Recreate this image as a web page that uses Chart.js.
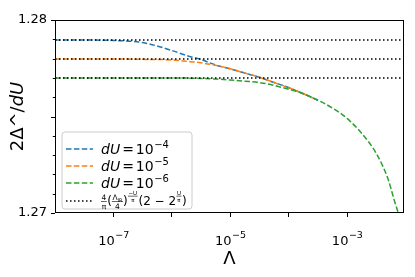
<!DOCTYPE html>
<html><head><meta charset="utf-8">
<script src="https://cdn.jsdelivr.net/npm/chart.js@4/dist/chart.umd.min.js"></script>
<style>html,body{margin:0;padding:0;background:#fff}#wrap{width:415px;height:277px}</style>
</head><body><div id="wrap"><canvas id="c" width="415" height="277"></canvas></div>
<script>
// Λ sample points (x axis)
const lambdaGrid = [1e-8, 3.16e-8, 1e-7, 3.16e-7, 1e-6, 1.78e-6, 3.16e-6, 5.62e-6, 1e-5, 1.78e-5, 3.16e-5, 5.62e-5, 1e-4, 1.78e-4, 3.16e-4, 5.62e-4, 1e-3, 1.78e-3, 3.16e-3, 5.01e-3, 6.31e-3, 7.59e-3];
// 2Δ^/dU for each dU (blue / orange hidden under green once merged)
const blueVals   = [1.27896,1.27896,1.27894,1.27883,1.27842,1.27816,1.27795,1.27767,1.27747,1.27725,1.27703,1.27676,1.27650,1.27618,1.27584];
const orangeVals = [1.27798,1.27798,1.27798,1.27796,1.27793,1.27786,1.27778,1.27765,1.27747,1.27725,1.27703,1.27676,1.27649,1.27618,1.27584];
const greenVals  = [1.27700,1.27700,1.27700,1.27700,1.27700,1.27699,1.27697,1.27694,1.27689,1.27683,1.27676,1.27661,1.27641,1.27618,1.27584,1.27544,1.27490,1.27412,1.27308,1.27176,1.27073,1.26995];
// analytic reference levels (dotted)
const refLevels = [1.27896, 1.27798, 1.27700];
const seriesNames = ['dU = 10⁻⁴', 'dU = 10⁻⁵', 'dU = 10⁻⁶'];
const seriesExp = ['−4', '−5', '−6'];
const xRange = [1e-8, 9.4e-3];
const yRange = [1.27, 1.28];
const xTickVals = [1e-7, 1e-6, 1e-5, 1e-4, 1e-3];
const xTickBase = ['10', '', '10', '', '10'];
const xTickExp = ['−7', '', '−5', '', '−3'];
const yTickVals = [1.27, 1.271, 1.272, 1.273, 1.274, 1.275, 1.276, 1.277, 1.278, 1.279, 1.28];
const yTickLabels = ['1.27', '', '', '', '', '', '', '', '', '', '1.28'];

const colors = ['#1f77b4', '#ff7f0e', '#2ca02c'];
const FONT = "'DejaVu Sans', sans-serif";
const dash = [5.5, 2.4], dot = [1.5, 2.5];

const mk = vals => vals.map((y, i) => ({x: lambdaGrid[i], y}));
const datasets = [blueVals, orangeVals, greenVals].map((v, i) => ({
  label: seriesNames[i], data: mk(v), borderColor: colors[i], borderWidth: 1.5,
  borderDash: dash, pointRadius: 0, fill: false, cubicInterpolationMode: 'monotone', order: 3 - i
}));
refLevels.forEach((lv, i) => datasets.push({
  label: i === 0 ? 'ref' : 'ref' + i, data: [{x: xRange[0], y: lv}, {x: xRange[1], y: lv}],
  borderColor: '#000', borderWidth: 1.5, borderDash: dot, pointRadius: 0, fill: false, order: 0
}));

function frac(ctx, x, y, num, den, size) {
  ctx.font = size + 'px ' + FONT;
  const w = Math.max(ctx.measureText(num).width, ctx.measureText(den).width);
  ctx.textAlign = 'center';
  ctx.textBaseline = 'alphabetic';
  ctx.fillText(num, x + w / 2 + 0.5, y - size * 0.35);
  ctx.fillText(den, x + w / 2 + 0.5, y + size * 0.85);
  ctx.fillRect(x, y - size * 0.22, w + 1, 0.6);
  ctx.textAlign = 'left';
  return x + w + 1;
}
function txt(ctx, x, y, s, font) {
  ctx.font = font; ctx.textAlign = 'left'; ctx.textBaseline = 'alphabetic';
  ctx.fillText(s, x, y); return x + ctx.measureText(s).width;
}

const decor = {
  id: 'decor',
  afterDraw(chart) {
    const ctx = chart.ctx, a = chart.chartArea;
    const ys = chart.scales.y, xs = chart.scales.x;
    ctx.save();
    // frame
    ctx.strokeStyle = '#000'; ctx.lineWidth = 1;
    ctx.strokeRect(Math.round(a.left) + 0.5, Math.round(a.top) + 0.5, Math.round(a.right - a.left) - 1, Math.round(a.bottom - a.top) - 1);
    // minor y ticks
    yTickVals.forEach((v, i) => {
      const p = Math.round(ys.getPixelForValue(v)) + 0.5;
      const L = (i === 5) ? 4 : 2.2;
      if (i === 0 || i === 10) return;
      ctx.beginPath(); ctx.moveTo(a.left - L, p); ctx.lineTo(a.left, p); ctx.stroke();
    });
    ctx.fillStyle = '#000';
    // x tick labels 10^n
    xTickVals.forEach((v, i) => {
      if (!xTickBase[i]) return;
      const px = xs.getPixelForValue(v);
      ctx.font = '13px ' + FONT; const wb = ctx.measureText(xTickBase[i]).width;
      ctx.font = '9.5px ' + FONT; const we = ctx.measureText(xTickExp[i]).width;
      const sx = px - (wb + we) / 2;
      txt(ctx, sx, 245, xTickBase[i], '13px ' + FONT);
      txt(ctx, sx + wb + 0.5, 238, xTickExp[i], '9.5px ' + FONT);
    });
    // axis titles
    ctx.font = '18px ' + FONT; ctx.textAlign = 'center'; ctx.textBaseline = 'middle';
    ctx.fillText('Λ', (a.left + a.right) / 2, 259);
    ctx.save();
    ctx.translate(18, (a.top + a.bottom) / 2); ctx.rotate(-Math.PI / 2);
    ctx.font = '18px ' + FONT;
    const p1 = '2Δ^/'; const w1 = ctx.measureText(p1).width;
    ctx.font = 'italic 18px ' + FONT; const w2 = ctx.measureText('dU').width;
    let sx = -(w1 + w2) / 2;
    ctx.textAlign = 'left'; ctx.textBaseline = 'middle';
    ctx.font = '18px ' + FONT; ctx.fillText(p1, sx, 0);
    ctx.font = 'italic 18px ' + FONT; ctx.fillText('dU', sx + w1, 0);
    ctx.restore();
    // legend
    const bx = 62, by = 132, bw = 130, bh = 77, r = 3;
    ctx.beginPath();
    ctx.moveTo(bx + r, by); ctx.lineTo(bx + bw - r, by); ctx.quadraticCurveTo(bx + bw, by, bx + bw, by + r);
    ctx.lineTo(bx + bw, by + bh - r); ctx.quadraticCurveTo(bx + bw, by + bh, bx + bw - r, by + bh);
    ctx.lineTo(bx + r, by + bh); ctx.quadraticCurveTo(bx, by + bh, bx, by + bh - r);
    ctx.lineTo(bx, by + r); ctx.quadraticCurveTo(bx, by, bx + r, by); ctx.closePath();
    ctx.fillStyle = 'rgba(255,255,255,0.8)'; ctx.fill();
    ctx.strokeStyle = '#cccccc'; ctx.lineWidth = 1; ctx.stroke();
    const rows = [149, 166, 183, 201];
    for (let i = 0; i < 4; i++) {
      ctx.beginPath(); ctx.setLineDash(i < 3 ? dash : dot); ctx.lineWidth = 1.5;
      ctx.strokeStyle = i < 3 ? colors[i] : '#000';
      ctx.moveTo(66, rows[i]); ctx.lineTo(93, rows[i]); ctx.stroke(); ctx.setLineDash([]);
    }
    ctx.fillStyle = '#000';
    for (let i = 0; i < 3; i++) {
      const y = rows[i] + 5;
      let x = txt(ctx, 101, y, 'dU', 'italic 14px ' + FONT);
      x = txt(ctx, x + 2, y, '=', '14px ' + FONT);
      x = txt(ctx, x + 2, y, '10', '14px ' + FONT);
      txt(ctx, x + 0.5, y - 6.5, seriesExp[i], '10px ' + FONT);
    }
    // formula row
    {
      const y = rows[3] + 4;
      let x = 101;
      x = frac(ctx, x, y - 2, '4', 'π', 7.5);
      x = txt(ctx, x + 0.5, y, '(', '12px ' + FONT);
      ctx.font = '7.5px ' + FONT;
      const nx = x;
      ctx.textAlign = 'left';
      const wL = ctx.measureText('Λ').width;
      ctx.fillText('Λ', nx + 0.5, y - 2 - 7.5 * 0.35);
      ctx.font = '5px ' + FONT; ctx.fillText('IR', nx + 0.5 + wL, y - 2 - 7.5 * 0.35 + 1.2);
      const wN = wL + ctx.measureText('IR').width;
      ctx.font = '7.5px ' + FONT; ctx.textAlign = 'center';
      ctx.fillText('4', nx + wN / 2 + 0.5, y - 2 + 7.5 * 0.85);
      ctx.fillRect(nx, y - 2 - 7.5 * 0.22, wN + 1, 0.6);
      ctx.textAlign = 'left';
      x = nx + wN + 1;
      x = txt(ctx, x, y, ')', '12px ' + FONT);
      x = frac(ctx, x + 0.3, y - 8, '−U', 'π', 5.5);
      x = txt(ctx, x + 0.8, y, '(2 − 2', '12px ' + FONT);
      x = frac(ctx, x + 0.3, y - 8, 'U', 'π', 5.5);
      txt(ctx, x + 0.5, y, ')', '12px ' + FONT);
    }
    ctx.restore();
  }
};

new Chart(document.getElementById('c'), {
  type: 'line',
  data: {datasets},
  options: {
    responsive: false, animation: false, devicePixelRatio: 1,
    layout: {padding: {left: 0, right: 11, top: 20, bottom: 0}},
    plugins: {legend: {display: false}, tooltip: {enabled: false}},
    scales: {
      x: {
        type: 'logarithmic', min: xRange[0], max: xRange[1],
        afterBuildTicks: s => { s.ticks = xTickVals.map(v => ({value: v})); },
        afterFit: s => { s.height = 64; },
        ticks: {
          autoSkip: false, maxRotation: 0, padding: 4, color: '#000',
          font: {family: FONT, size: 13},
          callback: () => ''
        },
        grid: {display: true, drawOnChartArea: false, drawTicks: true, tickLength: 4, color: '#000', lineWidth: 1},
        border: {display: false}
      },
      y: {
        type: 'linear', min: yRange[0], max: yRange[1],
        afterBuildTicks: s => { s.ticks = yTickVals.map(v => ({value: v})); },
        afterFit: s => { s.width = 55; },
        ticks: {
          autoSkip: false, padding: 4, color: '#000',
          font: {family: FONT, size: 13},
          callback: (v, i) => yTickLabels[i]
        },
        grid: {display: true, drawOnChartArea: false, drawTicks: true, tickLength: 4, lineWidth: 1,
          tickColor: c => (c.index === 0 || c.index === 10) ? '#000' : 'rgba(0,0,0,0)'},
        border: {display: false}
      }
    }
  },
  plugins: [decor]
});
</script></body></html>
